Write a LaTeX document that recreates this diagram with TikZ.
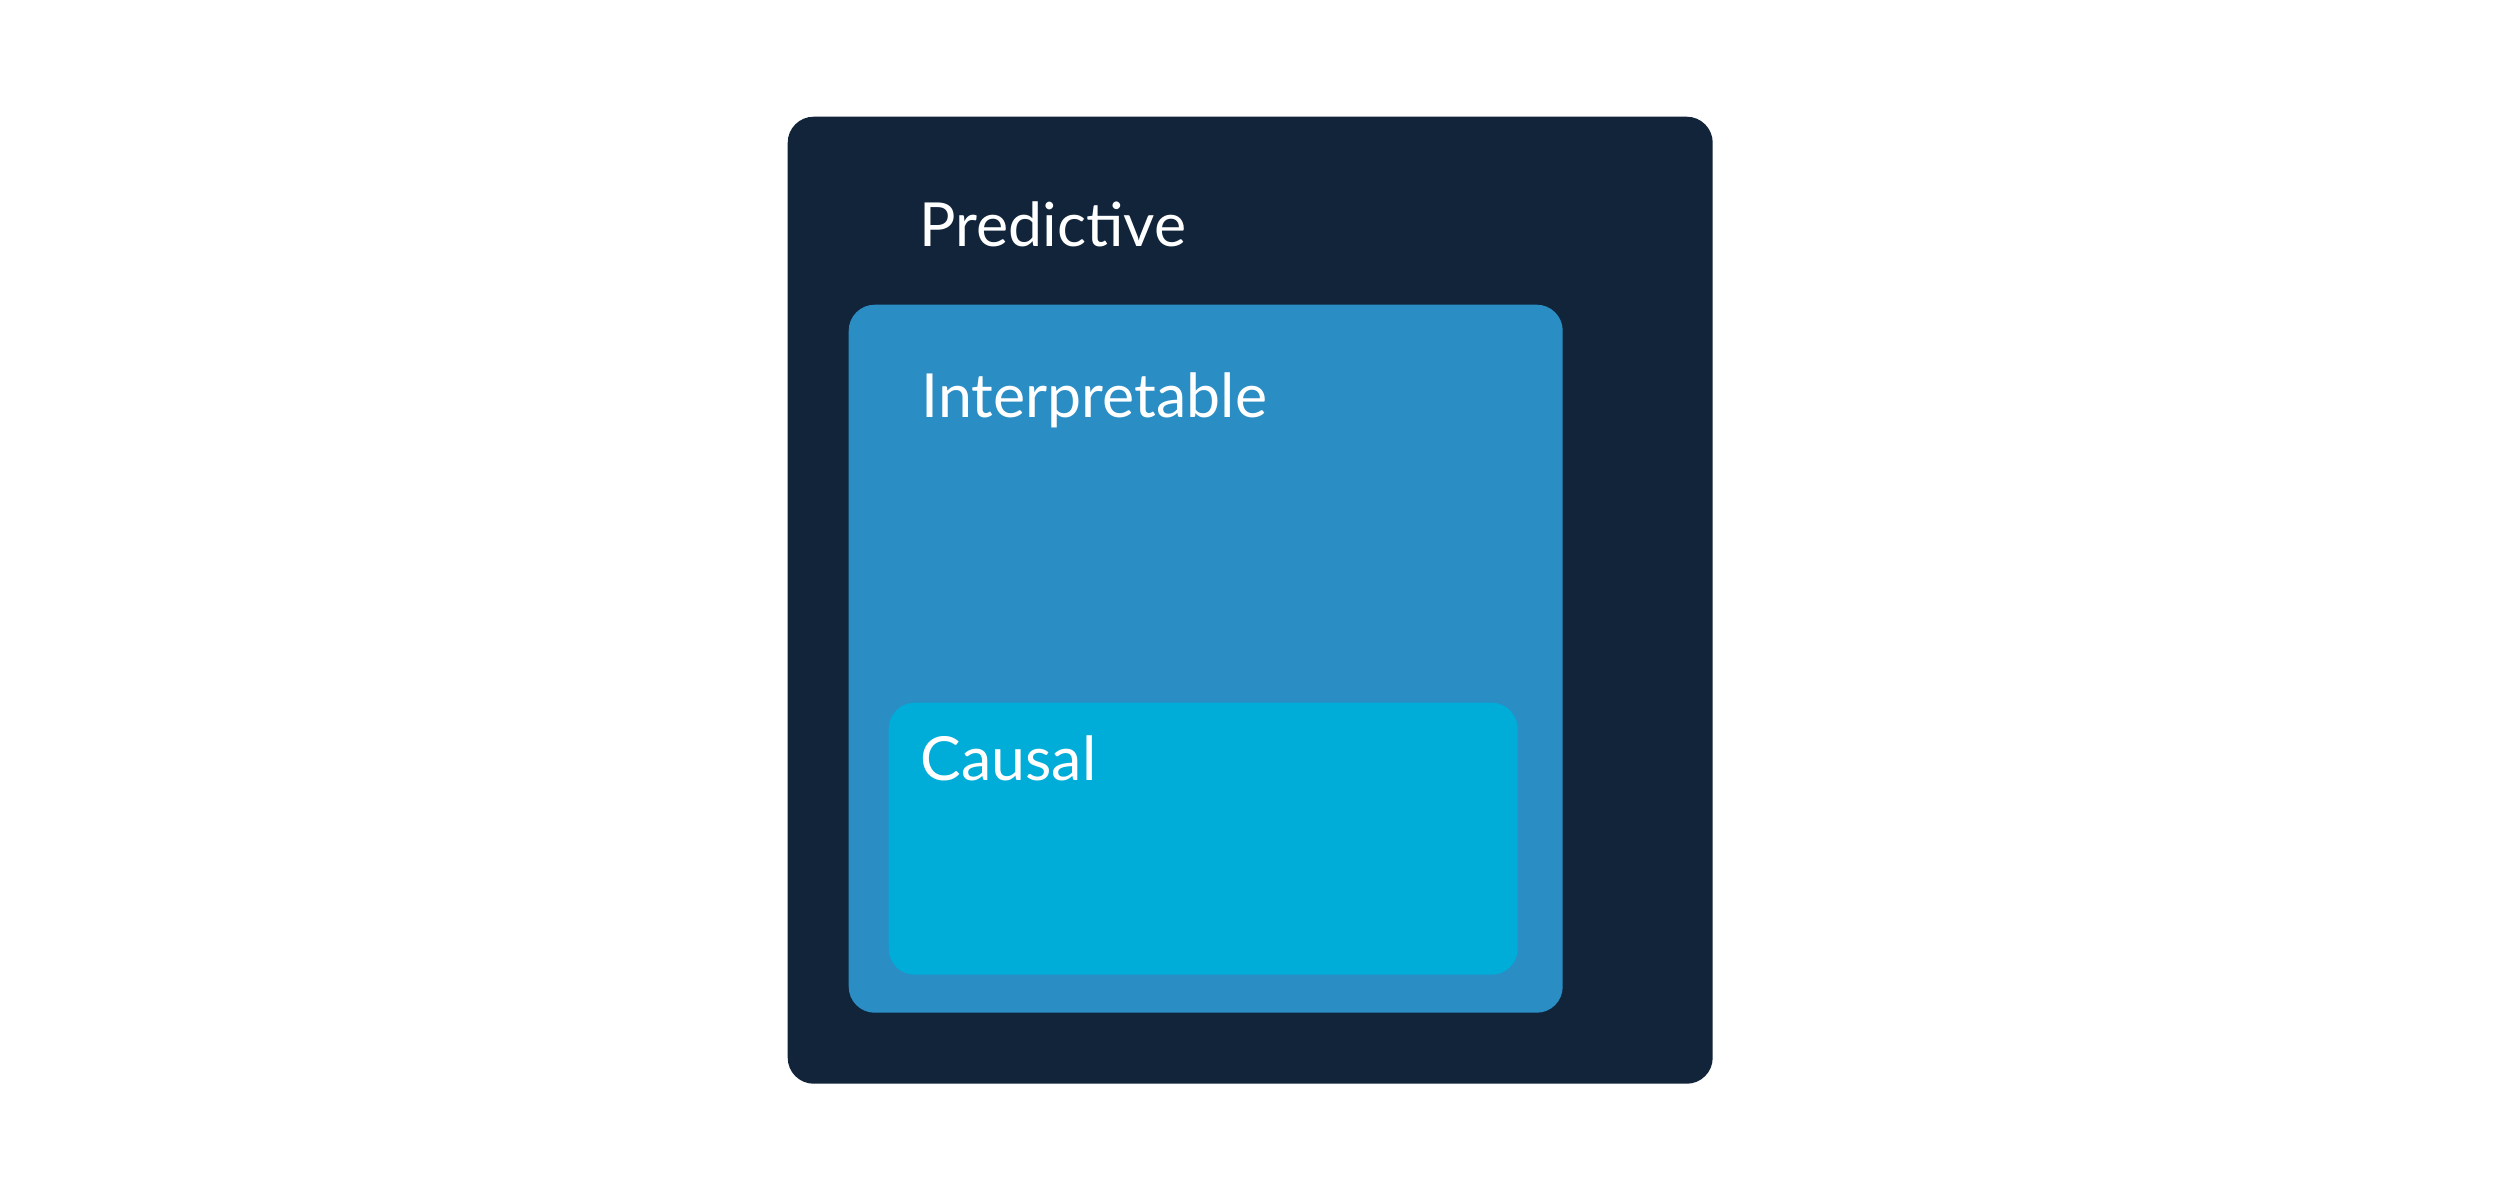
\documentclass[tikz,border=0pt]{standalone}
\usepackage{fontspec}
\setmainfont{Lato}
\usetikzlibrary{positioning}
\definecolor{mnavy}{RGB}{17, 36, 58}
\definecolor{mblue}{RGB}{42, 141, 196}
\definecolor{mcyan}{RGB}{0, 172, 216}
\tikzset{layer/.style = {rounded corners = 0.26cm, inner sep = 0, anchor = north west}}
\tikzset{lbl/.style = {text = white, anchor = base west, inner sep = 0,
                       font = \fontsize{17.3}{21}\selectfont}}

\begin{document}
\begin{tikzpicture}
    \useasboundingbox [fill = white] (0, 0) rectangle (25, -12);

    \node [layer, fill = mnavy, minimum width = 9.25cm, minimum height = 9.67cm] (pred) at (7.87, -1.16) {};
    \node [layer, fill = mblue, minimum width = 7.14cm, minimum height = 7.08cm] (interp) at (8.48, -3.04) {};
    \node [layer, fill = mcyan, minimum width = 6.29cm, minimum height = 2.72cm] (causal) at (8.88, -7.02) {};

    \node [lbl] (predtxt) at (9.19, -2.46) {Predictive};
    \node [lbl] (interptxt) at (9.21, -4.17) {Interpretable};
    \node [lbl] (causaltxt) at (9.20, -7.80) {Causal};
  \end{tikzpicture}
\end{document}
